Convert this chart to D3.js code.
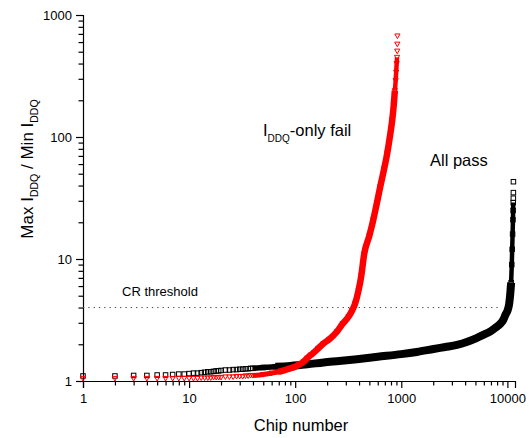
<!doctype html>
<html>
<head>
<meta charset="utf-8" />
<script src="https://d3js.org/d3.v7.min.js"></script>
<style>
  body { margin: 0; background: #fff; }
  text { font-family: Arial, "Liberation Sans", sans-serif; }
</style>
</head>
<body>
<div id="chart"></div>
<script>

// sorted chips: rank (chip number) and Max IDDQ / Min IDDQ
var passChip = [1,2,3,4,5,6,7,8,9,10,11,12,13,14,15,16,17,18,19,20,22,24,26,28,30,32,34,36,38,40,
                50,65,90,130,185,260,382,600,1000,1400,2020,2600,3350,4200,5180,6000,6920,7800,8600,
                9200,9600,10000,10400,10650,10850,11000,11100,11200,11290,11330,11360,11380,11390,11400];
var passRatio = [1.10,1.10,1.11,1.11,1.12,1.12,1.13,1.14,1.14,1.15,1.16,1.16,1.17,1.18,1.19,1.19,1.20,1.21,1.21,1.22,
                 1.23,1.23,1.24,1.24,1.25,1.25,1.26,1.26,1.27,1.27,
                 1.29,1.31,1.33,1.37,1.42,1.46,1.51,1.58,1.66,1.73,1.83,1.90,1.98,2.10,2.26,2.40,2.55,2.75,2.95,
                 3.2,3.5,3.75,4.3,5.2,6.4,9,12,16,21,25,29,31.5,35,43];

var failChip = [1,2,3,4,5,6,7,8,9,10,11,12,13,14,15,16,17,18,19,20,22,24,26,28,30,32,34,36,38,40,
                50,60,70,80,90,100,110,120,130,140,149,165,185,210,247,280,318,345,368,396,420,447,
                500,545,590,633,690,738,780,822,850,870,885,895,905,912,916,918,920];
var failRatio = [1.05,1.05,1.05,1.05,1.05,1.05,1.05,1.05,1.05,1.05,1.05,1.05,1.06,1.06,1.06,1.06,1.07,1.07,1.07,1.07,
                 1.08,1.08,1.08,1.09,1.09,1.09,1.10,1.10,1.11,1.11,
                 1.13,1.16,1.19,1.23,1.27,1.31,1.37,1.44,1.54,1.63,1.70,1.85,2.03,2.20,2.53,2.95,3.36,3.8,4.33,5.55,7.3,11,
                 15.5,21,29,39,55,74,100,138,185,240,290,340,400,450,506,577,673];

var xTicks = [1,10,100,1000,10000];
var yTicks = [1,10,100,1000];
var crThreshold = 4;

var width = 529, height = 438;
var svg = d3.select("#chart").append("svg").attr("width", width).attr("height", height);

var x = d3.scaleLog().domain([1, 11800]).range([83, 515]);
var y = d3.scaleLog().domain([1, 1000]).range([381, 15]);

function isMajor(d, list) {
  return list.some(t => Math.abs(Math.log10(d) - Math.log10(t)) < 1e-6);
}

//axes
var gx = svg.append("g").attr("transform", "translate(0,381)")
  .call(d3.axisBottom(x).tickValues(x.ticks()).tickSizeOuter(0).tickSize(7)
    .tickFormat(d => isMajor(d, xTicks) ? d3.format("d")(d) : ""));
gx.selectAll(".tick line").attr("y2", d => isMajor(d, xTicks) ? 7 : 4.5);
gx.selectAll(".tick text").attr("y", 13).attr("font-size", 13).attr("font-family", "Arial, 'Liberation Sans', sans-serif");

var gy = svg.append("g").attr("transform", "translate(83,0)")
  .call(d3.axisLeft(y).tickValues(y.ticks()).tickSizeOuter(0).tickSize(7)
    .tickFormat(d => isMajor(d, yTicks) ? d3.format("d")(d) : ""));
gy.selectAll(".tick line").attr("x2", d => isMajor(d, yTicks) ? -7 : -4.5);
gy.selectAll(".tick text").attr("x", -11).attr("font-size", 13).attr("font-family", "Arial, 'Liberation Sans', sans-serif");

svg.selectAll(".domain, .tick line").attr("stroke", "#000").attr("stroke-width", 1.2);

//CR threshold
svg.append("line")
  .attr("x1", x(1)).attr("x2", 500)
  .attr("y1", y(crThreshold)).attr("y2", y(crThreshold))
  .attr("stroke", "#444").attr("stroke-width", 1).attr("stroke-dasharray", "1.3,4");
svg.append("text").attr("x", 122).attr("y", 296).attr("font-size", 13).text("CR threshold");

//series
var pass = passChip.map((c, i) => ({chip: c, ratio: passRatio[i]}));
var fail = failChip.map((c, i) => ({chip: c, ratio: failRatio[i]}));
var line = d3.line().x(d => x(d.chip)).y(d => y(d.ratio)).curve(d3.curveMonotoneX);

function band(data, color, w) {
  svg.append("path").datum(data)
    .attr("d", line).attr("fill", "none")
    .attr("stroke", color).attr("stroke-width", w)
    .attr("stroke-linejoin", "round");
}

// dense stretches where the markers merge into a band
band(pass.filter(d => d.chip >= 40 && d.chip <= 90), "#000", 5.5);
band(pass.filter(d => d.chip >= 65 && d.ratio <= 7), "#000", 8);
band(pass.filter(d => d.ratio >= 6 && d.ratio <= 29), "#000", 4.5);

svg.append("g").selectAll("rect").data(pass).enter().append("rect")
  .attr("x", d => x(d.chip) - 2.25).attr("y", d => y(d.ratio) - 2.25)
  .attr("width", 4.5).attr("height", 4.5)
  .attr("fill", "none").attr("stroke", "#000").attr("stroke-width", 1);

band(fail.filter(d => d.chip >= 40 && d.chip <= 80), "#ff0000", 5);
band(fail.filter(d => d.chip >= 70 && d.ratio <= 260), "#ff0000", 6.5);
band(fail.filter(d => d.ratio >= 240 && d.ratio <= 460), "#ff0000", 4.5);

svg.append("g").selectAll("path").data(fail).enter().append("path")
  .attr("d", "M-2.6,-2 L2.6,-2 L0,2.6 Z")
  .attr("transform", d => "translate(" + x(d.chip) + "," + y(d.ratio) + ")")
  .attr("fill", "none").attr("stroke", "#ff0000").attr("stroke-width", 1);

//labels
svg.append("text").attr("x", 301).attr("y", 431).attr("text-anchor", "middle")
  .attr("font-size", 16.5).text("Chip number");

var yl = svg.append("text").attr("transform", "translate(33,169) rotate(-90)")
  .attr("text-anchor", "middle").attr("font-size", 17);
yl.append("tspan").text("Max I");
yl.append("tspan").attr("dy", 5).attr("font-size", 10.5).text("DDQ");
yl.append("tspan").attr("dy", -5).text(" / Min I");
yl.append("tspan").attr("dy", 5).attr("font-size", 10.5).text("DDQ");

var fl = svg.append("text").attr("x", 263).attr("y", 136).attr("font-size", 16.5);
fl.append("tspan").text("I");
fl.append("tspan").attr("dy", 6).attr("font-size", 10).text("DDQ");
fl.append("tspan").attr("dy", -6).text("-only fail");

svg.append("text").attr("x", 430).attr("y", 166).attr("font-size", 16.5).text("All pass");

</script>
</body>
</html>
